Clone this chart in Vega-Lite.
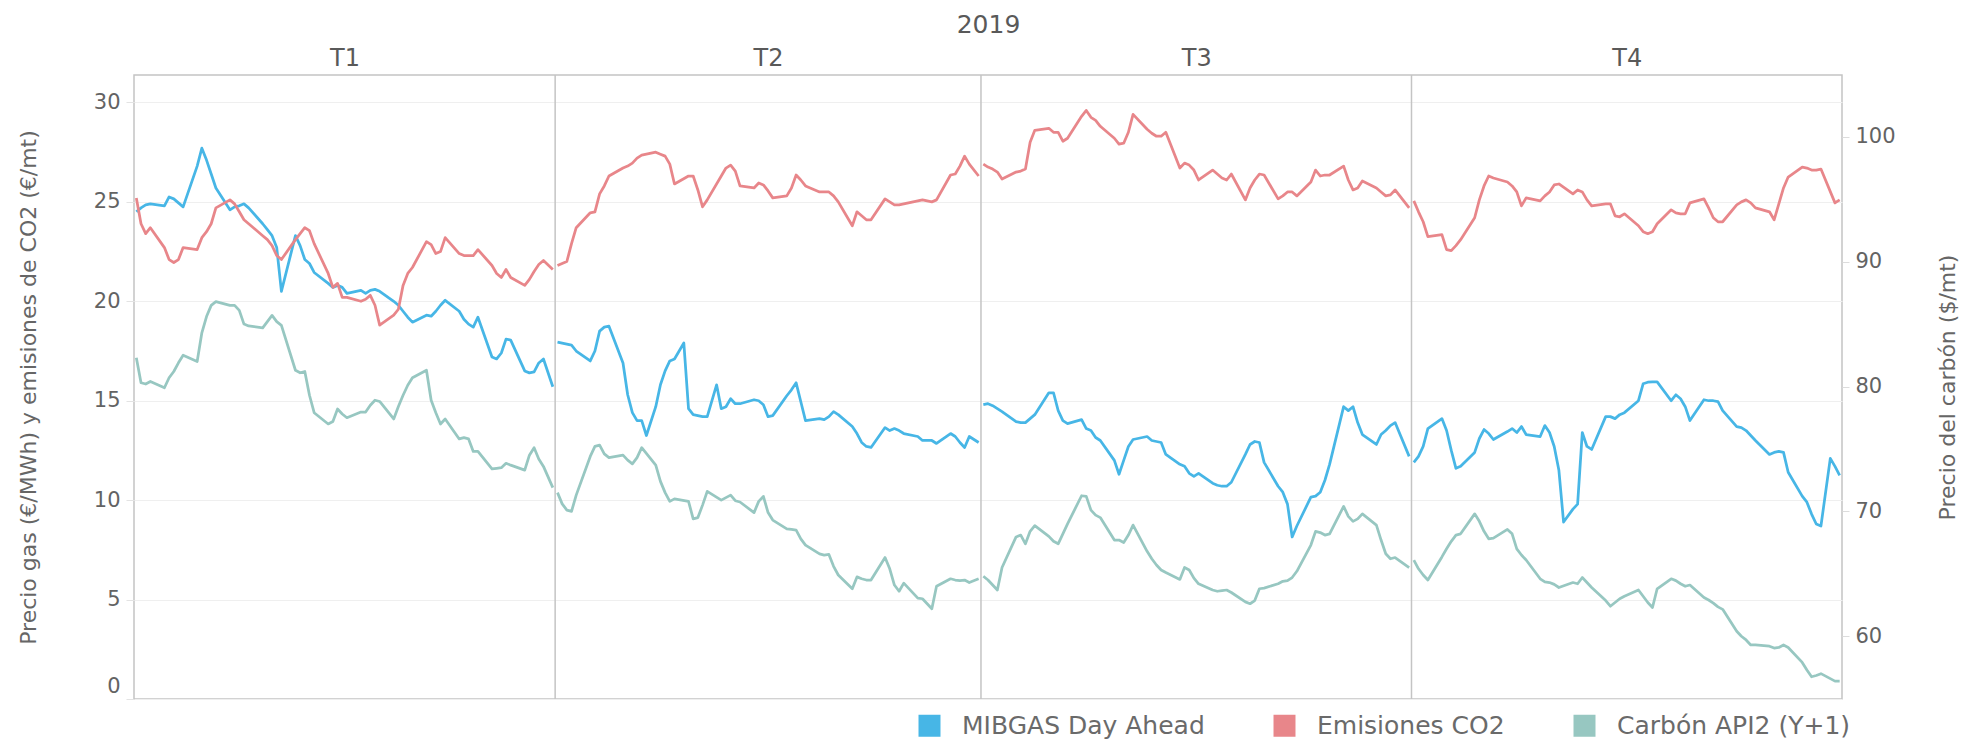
{
"$schema": "https://vega.github.io/schema/vega-lite/v6.json",
"width": 1708, "height": 624,
"autosize": {"type": "none"},
"padding": {"left": 134, "top": 75, "right": 127, "bottom": 49},
"background": "white",
"config": {
  "font": "DejaVu Sans",
  "view": {"stroke": "#c4c4c4", "strokeWidth": 1.5},
  "axis": {"labelFont": "DejaVu Sans", "titleFont": "DejaVu Sans", "labelColor": "#636363", "titleColor": "#666666", "titleFontWeight": "normal", "domain": false}
},
"data": {"values": [
{"d":"2019-01-01","g":24.5,"c":25.2,"k":82.3},
{"d":"2019-01-02","g":24.7,"c":23.9,"k":80.3},
{"d":"2019-01-03","g":24.85,"c":23.4,"k":80.2},
{"d":"2019-01-04","g":24.9,"c":23.7,"k":80.4},
{"d":"2019-01-07","g":24.8,"c":22.7,"k":79.9},
{"d":"2019-01-08","g":25.25,"c":22.1,"k":80.7},
{"d":"2019-01-09","g":25.15,"c":21.95,"k":81.2},
{"d":"2019-01-10","g":24.95,"c":22.1,"k":81.9},
{"d":"2019-01-11","g":24.75,"c":22.7,"k":82.5},
{"d":"2019-01-14","g":26.8,"c":22.6,"k":82.0},
{"d":"2019-01-15","g":27.7,"c":23.2,"k":84.3},
{"d":"2019-01-16","g":27.1,"c":23.5,"k":85.6},
{"d":"2019-01-17","g":26.4,"c":23.9,"k":86.5},
{"d":"2019-01-18","g":25.7,"c":24.7,"k":86.8},
{"d":"2019-01-21","g":24.6,"c":25.1,"k":86.5},
{"d":"2019-01-22","g":24.75,"c":24.9,"k":86.5},
{"d":"2019-01-23","g":24.8,"c":24.5,"k":86.1},
{"d":"2019-01-24","g":24.9,"c":24.1,"k":85.0},
{"d":"2019-01-25","g":24.7,"c":23.9,"k":84.85},
{"d":"2019-01-28","g":23.9,"c":23.3,"k":84.7},
{"d":"2019-01-29","g":23.6,"c":23.1,"k":85.2},
{"d":"2019-01-30","g":23.3,"c":22.8,"k":85.7},
{"d":"2019-01-31","g":22.7,"c":22.3,"k":85.2},
{"d":"2019-02-01","g":20.5,"c":22.1,"k":84.9},
{"d":"2019-02-04","g":23.3,"c":23.1,"k":81.3},
{"d":"2019-02-05","g":22.8,"c":23.4,"k":81.1},
{"d":"2019-02-06","g":22.1,"c":23.7,"k":81.2},
{"d":"2019-02-07","g":21.9,"c":23.55,"k":79.3},
{"d":"2019-02-08","g":21.45,"c":22.9,"k":77.9},
{"d":"2019-02-11","g":20.9,"c":21.4,"k":77.0},
{"d":"2019-02-12","g":20.7,"c":20.7,"k":77.2},
{"d":"2019-02-13","g":20.8,"c":20.9,"k":78.2},
{"d":"2019-02-14","g":20.7,"c":20.2,"k":77.8},
{"d":"2019-02-15","g":20.4,"c":20.2,"k":77.5},
{"d":"2019-02-18","g":20.55,"c":20.0,"k":77.95},
{"d":"2019-02-19","g":20.4,"c":20.1,"k":77.95},
{"d":"2019-02-20","g":20.55,"c":20.3,"k":78.5},
{"d":"2019-02-21","g":20.6,"c":19.8,"k":78.9},
{"d":"2019-02-22","g":20.5,"c":18.8,"k":78.8},
{"d":"2019-02-25","g":20.0,"c":19.3,"k":77.4},
{"d":"2019-02-26","g":19.8,"c":19.6,"k":78.4},
{"d":"2019-02-27","g":19.5,"c":20.8,"k":79.3},
{"d":"2019-02-28","g":19.2,"c":21.4,"k":80.1},
{"d":"2019-03-01","g":18.95,"c":21.7,"k":80.7},
{"d":"2019-03-04","g":19.3,"c":23.0,"k":81.3},
{"d":"2019-03-05","g":19.25,"c":22.85,"k":78.9},
{"d":"2019-03-06","g":19.5,"c":22.4,"k":77.9},
{"d":"2019-03-07","g":19.8,"c":22.5,"k":77.0},
{"d":"2019-03-08","g":20.05,"c":23.2,"k":77.4},
{"d":"2019-03-11","g":19.5,"c":22.4,"k":75.8},
{"d":"2019-03-12","g":19.1,"c":22.3,"k":75.9},
{"d":"2019-03-13","g":18.85,"c":22.3,"k":75.8},
{"d":"2019-03-14","g":18.7,"c":22.3,"k":74.8},
{"d":"2019-03-15","g":19.2,"c":22.6,"k":74.8},
{"d":"2019-03-18","g":17.2,"c":21.8,"k":73.4},
{"d":"2019-03-19","g":17.1,"c":21.4,"k":73.45},
{"d":"2019-03-20","g":17.4,"c":21.2,"k":73.5},
{"d":"2019-03-21","g":18.1,"c":21.6,"k":73.85},
{"d":"2019-03-22","g":18.05,"c":21.2,"k":73.7},
{"d":"2019-03-25","g":16.5,"c":20.8,"k":73.3},
{"d":"2019-03-26","g":16.4,"c":21.1,"k":74.5},
{"d":"2019-03-27","g":16.45,"c":21.5,"k":75.1},
{"d":"2019-03-28","g":16.9,"c":21.85,"k":74.2},
{"d":"2019-03-29","g":17.1,"c":22.05,"k":73.6},
{"d":"2019-03-31","g":15.7,"c":21.6,"k":71.9},
{"d":"2019-04-01","g":17.95,"c":21.8,"k":71.5},
{"d":"2019-04-02","g":17.9,"c":21.9,"k":70.6},
{"d":"2019-04-03","g":17.85,"c":22.0,"k":70.1},
{"d":"2019-04-04","g":17.8,"c":22.9,"k":70.0},
{"d":"2019-04-05","g":17.5,"c":23.7,"k":71.3},
{"d":"2019-04-08","g":17.0,"c":24.45,"k":74.4},
{"d":"2019-04-09","g":17.5,"c":24.5,"k":75.2},
{"d":"2019-04-10","g":18.5,"c":25.4,"k":75.3},
{"d":"2019-04-11","g":18.7,"c":25.8,"k":74.6},
{"d":"2019-04-12","g":18.75,"c":26.3,"k":74.3},
{"d":"2019-04-15","g":16.9,"c":26.7,"k":74.5},
{"d":"2019-04-16","g":15.3,"c":26.8,"k":74.1},
{"d":"2019-04-17","g":14.4,"c":26.95,"k":73.8},
{"d":"2019-04-18","g":14.0,"c":27.2,"k":74.3},
{"d":"2019-04-19","g":14.0,"c":27.35,"k":75.1},
{"d":"2019-04-20","g":13.25},
{"d":"2019-04-22","g":14.7,"c":27.5,"k":73.7},
{"d":"2019-04-23","g":15.8,"c":27.4,"k":72.4},
{"d":"2019-04-24","g":16.5,"c":27.3,"k":71.5},
{"d":"2019-04-25","g":17.0,"c":26.9,"k":70.8},
{"d":"2019-04-26","g":17.1,"c":25.9,"k":71.0},
{"d":"2019-04-28","g":17.9},
{"d":"2019-04-29","g":14.6,"c":26.3,"k":70.8},
{"d":"2019-04-30","g":14.3,"c":26.3,"k":69.4},
{"d":"2019-05-01","g":14.25,"c":25.6,"k":69.5},
{"d":"2019-05-02","g":14.2,"c":24.75,"k":70.5},
{"d":"2019-05-03","g":14.2,"c":25.1,"k":71.6},
{"d":"2019-05-05","g":15.8},
{"d":"2019-05-06","g":14.6,"c":26.3,"k":70.9},
{"d":"2019-05-07","g":14.7,"c":26.7,"k":71.1},
{"d":"2019-05-08","g":15.1,"c":26.85,"k":71.3},
{"d":"2019-05-09","g":14.85,"c":26.55,"k":70.85},
{"d":"2019-05-10","g":14.85,"c":25.8,"k":70.75},
{"d":"2019-05-13","g":15.05,"c":25.7,"k":69.9},
{"d":"2019-05-14","g":15.0,"c":25.95,"k":70.8},
{"d":"2019-05-15","g":14.8,"c":25.85,"k":71.2},
{"d":"2019-05-16","g":14.2,"c":25.55,"k":69.9},
{"d":"2019-05-17","g":14.25,"c":25.2,"k":69.3},
{"d":"2019-05-20","g":15.25,"c":25.3,"k":68.6},
{"d":"2019-05-21","g":15.55,"c":25.7,"k":68.55},
{"d":"2019-05-22","g":15.9,"c":26.35,"k":68.5},
{"d":"2019-05-23","g":14.95,"c":26.1,"k":67.8},
{"d":"2019-05-24","g":14.0,"c":25.8,"k":67.3},
{"d":"2019-05-27","g":14.1,"c":25.5,"k":66.6},
{"d":"2019-05-28","g":14.05,"c":25.5,"k":66.5},
{"d":"2019-05-29","g":14.2,"c":25.5,"k":66.55},
{"d":"2019-05-30","g":14.45,"c":25.3,"k":65.6},
{"d":"2019-05-31","g":14.3,"c":25.0,"k":64.9},
{"d":"2019-06-03","g":13.7,"c":23.8,"k":63.8},
{"d":"2019-06-04","g":13.35,"c":24.5,"k":64.75},
{"d":"2019-06-05","g":12.9,"c":24.3,"k":64.6},
{"d":"2019-06-06","g":12.7,"c":24.1,"k":64.5},
{"d":"2019-06-07","g":12.65,"c":24.1,"k":64.5},
{"d":"2019-06-10","g":13.65,"c":25.15,"k":66.3},
{"d":"2019-06-11","g":13.5,"c":25.0,"k":65.4},
{"d":"2019-06-12","g":13.6,"c":24.85,"k":64.1},
{"d":"2019-06-13","g":13.5,"c":24.85,"k":63.6},
{"d":"2019-06-14","g":13.35,"c":24.9,"k":64.25},
{"d":"2019-06-17","g":13.2,"c":25.05,"k":63.05},
{"d":"2019-06-18","g":13.0,"c":25.1,"k":63.0},
{"d":"2019-06-19","g":13.0,"c":25.05,"k":62.6},
{"d":"2019-06-20","g":13.0,"c":25.0,"k":62.2},
{"d":"2019-06-21","g":12.85,"c":25.1,"k":64.0},
{"d":"2019-06-24","g":13.35,"c":26.35,"k":64.6},
{"d":"2019-06-25","g":13.2,"c":26.4,"k":64.5},
{"d":"2019-06-26","g":12.9,"c":26.8,"k":64.45},
{"d":"2019-06-27","g":12.65,"c":27.3,"k":64.5},
{"d":"2019-06-28","g":13.2,"c":26.9,"k":64.3},
{"d":"2019-06-30","g":12.9,"c":26.3,"k":64.6},
{"d":"2019-07-01","g":14.8,"c":26.9,"k":64.8},
{"d":"2019-07-02","g":14.85,"c":26.75,"k":64.5},
{"d":"2019-07-03","g":14.75,"c":26.65,"k":64.1},
{"d":"2019-07-04","g":14.6,"c":26.5,"k":63.7},
{"d":"2019-07-05","g":14.45,"c":26.15,"k":65.5},
{"d":"2019-07-08","g":13.95,"c":26.5,"k":67.95},
{"d":"2019-07-09","g":13.9,"c":26.55,"k":68.1},
{"d":"2019-07-10","g":13.9,"c":26.65,"k":67.4},
{"d":"2019-07-11","g":14.1,"c":28.0,"k":68.4},
{"d":"2019-07-12","g":14.3,"c":28.6,"k":68.85},
{"d":"2019-07-15","g":15.4,"c":28.7,"k":68.0},
{"d":"2019-07-16","g":15.4,"c":28.5,"k":67.6},
{"d":"2019-07-17","g":14.5,"c":28.5,"k":67.4},
{"d":"2019-07-18","g":14.0,"c":28.05,"k":68.2},
{"d":"2019-07-19","g":13.85,"c":28.2,"k":69.0},
{"d":"2019-07-22","g":14.05,"c":29.3,"k":71.25},
{"d":"2019-07-23","g":13.6,"c":29.6,"k":71.2},
{"d":"2019-07-24","g":13.5,"c":29.25,"k":70.1},
{"d":"2019-07-25","g":13.15,"c":29.1,"k":69.7},
{"d":"2019-07-26","g":13.0,"c":28.8,"k":69.5},
{"d":"2019-07-29","g":12.0,"c":28.2,"k":67.7},
{"d":"2019-07-30","g":11.3,"c":27.9,"k":67.7},
{"d":"2019-07-31","g":12.0,"c":27.95,"k":67.5},
{"d":"2019-08-01","g":12.7,"c":28.5,"k":68.1},
{"d":"2019-08-02","g":13.05,"c":29.4,"k":68.9},
{"d":"2019-08-05","g":13.2,"c":28.65,"k":66.8},
{"d":"2019-08-06","g":13.0,"c":28.45,"k":66.2},
{"d":"2019-08-07","g":12.95,"c":28.3,"k":65.7},
{"d":"2019-08-08","g":12.9,"c":28.3,"k":65.3},
{"d":"2019-08-09","g":12.3,"c":28.5,"k":65.1},
{"d":"2019-08-12","g":11.8,"c":26.7,"k":64.55},
{"d":"2019-08-13","g":11.7,"c":26.95,"k":65.5},
{"d":"2019-08-14","g":11.35,"c":26.85,"k":65.3},
{"d":"2019-08-15","g":11.2,"c":26.6,"k":64.65},
{"d":"2019-08-16","g":11.35,"c":26.1,"k":64.2},
{"d":"2019-08-19","g":10.85,"c":26.6,"k":63.7},
{"d":"2019-08-20","g":10.75,"c":26.4,"k":63.6},
{"d":"2019-08-21","g":10.7,"c":26.2,"k":63.65},
{"d":"2019-08-22","g":10.7,"c":26.1,"k":63.7},
{"d":"2019-08-23","g":10.9,"c":26.4,"k":63.5},
{"d":"2019-08-26","g":12.3,"c":25.1,"k":62.75},
{"d":"2019-08-27","g":12.8,"c":25.7,"k":62.6},
{"d":"2019-08-28","g":12.95,"c":26.1,"k":62.85},
{"d":"2019-08-29","g":12.9,"c":26.4,"k":63.8},
{"d":"2019-08-30","g":11.9,"c":26.35,"k":63.85},
{"d":"2019-09-02","g":10.7,"c":25.15,"k":64.2},
{"d":"2019-09-03","g":10.4,"c":25.3,"k":64.4},
{"d":"2019-09-04","g":9.8,"c":25.5,"k":64.45},
{"d":"2019-09-05","g":8.15,"c":25.5,"k":64.7},
{"d":"2019-09-06","g":8.7,"c":25.3,"k":65.2},
{"d":"2019-09-09","g":10.15,"c":26.0,"k":67.3},
{"d":"2019-09-10","g":10.2,"c":26.6,"k":68.4},
{"d":"2019-09-11","g":10.4,"c":26.3,"k":68.3},
{"d":"2019-09-12","g":11.0,"c":26.35,"k":68.1},
{"d":"2019-09-13","g":11.8,"c":26.35,"k":68.2},
{"d":"2019-09-16","g":14.7,"c":26.8,"k":70.4},
{"d":"2019-09-17","g":14.5,"c":26.1,"k":69.6},
{"d":"2019-09-18","g":14.7,"c":25.6,"k":69.2},
{"d":"2019-09-19","g":13.9,"c":25.7,"k":69.4},
{"d":"2019-09-20","g":13.3,"c":26.05,"k":69.8},
{"d":"2019-09-23","g":12.8,"c":25.7,"k":68.9},
{"d":"2019-09-24","g":13.3,"c":25.5,"k":67.7},
{"d":"2019-09-25","g":13.5,"c":25.3,"k":66.6},
{"d":"2019-09-26","g":13.75,"c":25.35,"k":66.2},
{"d":"2019-09-27","g":13.9,"c":25.6,"k":66.3},
{"d":"2019-09-30","g":12.2,"c":24.7,"k":65.5},
{"d":"2019-10-01","g":11.9,"c":25.05,"k":66.1},
{"d":"2019-10-02","g":12.2,"c":24.5,"k":65.4},
{"d":"2019-10-03","g":12.7,"c":24.0,"k":64.9},
{"d":"2019-10-04","g":13.6,"c":23.25,"k":64.5},
{"d":"2019-10-07","g":14.1,"c":23.35,"k":66.35},
{"d":"2019-10-08","g":13.5,"c":22.6,"k":67.0},
{"d":"2019-10-09","g":12.5,"c":22.55,"k":67.6},
{"d":"2019-10-10","g":11.6,"c":22.8,"k":68.1},
{"d":"2019-10-11","g":11.7,"c":23.1,"k":68.2},
{"d":"2019-10-14","g":12.4,"c":24.2,"k":69.8},
{"d":"2019-10-15","g":13.1,"c":25.1,"k":69.2},
{"d":"2019-10-16","g":13.55,"c":25.8,"k":68.4},
{"d":"2019-10-17","g":13.35,"c":26.3,"k":67.8},
{"d":"2019-10-18","g":13.05,"c":26.2,"k":67.85},
{"d":"2019-10-21","g":13.45,"c":26.0,"k":68.55},
{"d":"2019-10-22","g":13.6,"c":25.8,"k":68.2},
{"d":"2019-10-23","g":13.4,"c":25.5,"k":67.0},
{"d":"2019-10-24","g":13.7,"c":24.8,"k":66.5},
{"d":"2019-10-25","g":13.3,"c":25.2,"k":66.1},
{"d":"2019-10-28","g":13.2,"c":25.05,"k":64.6},
{"d":"2019-10-29","g":13.75,"c":25.3,"k":64.35},
{"d":"2019-10-30","g":13.4,"c":25.5,"k":64.3},
{"d":"2019-10-31","g":12.7,"c":25.85,"k":64.15},
{"d":"2019-11-01","g":11.5,"c":25.9,"k":63.9},
{"d":"2019-11-02","g":8.9},
{"d":"2019-11-04","g":9.55,"c":25.4,"k":64.3},
{"d":"2019-11-05","g":9.8,"c":25.6,"k":64.2},
{"d":"2019-11-06","g":13.4,"c":25.5,"k":64.7},
{"d":"2019-11-07","g":12.7,"c":25.1,"k":64.3},
{"d":"2019-11-08","g":12.55,"c":24.8,"k":63.9},
{"d":"2019-11-11","g":14.2,"c":24.9,"k":62.85},
{"d":"2019-11-12","g":14.2,"c":24.9,"k":62.4},
{"d":"2019-11-13","g":14.1,"c":24.3,"k":62.7},
{"d":"2019-11-14","g":14.3,"c":24.25,"k":63.0},
{"d":"2019-11-15","g":14.4,"c":24.4,"k":63.2},
{"d":"2019-11-18","g":15.0,"c":23.8,"k":63.7},
{"d":"2019-11-19","g":15.85,"c":23.5,"k":63.2},
{"d":"2019-11-20","g":15.93,"c":23.4,"k":62.7},
{"d":"2019-11-21","g":15.95,"c":23.5,"k":62.3},
{"d":"2019-11-22","g":15.95,"c":23.9,"k":63.8},
{"d":"2019-11-25","g":15.0,"c":24.6,"k":64.6},
{"d":"2019-11-26","g":15.3,"c":24.45,"k":64.45},
{"d":"2019-11-27","g":15.1,"c":24.4,"k":64.2},
{"d":"2019-11-28","g":14.7,"c":24.4,"k":64.0},
{"d":"2019-11-29","g":14.0,"c":24.95,"k":64.1},
{"d":"2019-12-02","g":15.05,"c":25.15,"k":63.1},
{"d":"2019-12-03","g":15.0,"c":24.7,"k":62.9},
{"d":"2019-12-04","g":15.0,"c":24.2,"k":62.65},
{"d":"2019-12-05","g":14.95,"c":24.0,"k":62.35},
{"d":"2019-12-06","g":14.5,"c":24.0,"k":62.15},
{"d":"2019-12-09","g":13.7,"c":24.85,"k":60.4},
{"d":"2019-12-10","g":13.65,"c":25.0,"k":60.0},
{"d":"2019-12-11","g":13.5,"c":25.1,"k":59.7},
{"d":"2019-12-12","g":13.25,"c":24.95,"k":59.3},
{"d":"2019-12-13","g":13.0,"c":24.7,"k":59.3},
{"d":"2019-12-16","g":12.3,"c":24.5,"k":59.2},
{"d":"2019-12-17","g":12.4,"c":24.1,"k":59.05},
{"d":"2019-12-18","g":12.45,"c":24.9,"k":59.1},
{"d":"2019-12-19","g":12.4,"c":25.7,"k":59.3},
{"d":"2019-12-20","g":11.4,"c":26.25,"k":59.1},
{"d":"2019-12-23","g":10.2,"c":26.75,"k":57.9},
{"d":"2019-12-24","g":9.9,"c":26.7,"k":57.3},
{"d":"2019-12-25","g":9.3,"c":26.6,"k":56.75},
{"d":"2019-12-26","g":8.8,"c":26.6,"k":56.85},
{"d":"2019-12-27","g":8.7,"c":26.65,"k":57.0},
{"d":"2019-12-29","g":12.1},
{"d":"2019-12-30","g":11.7,"c":24.95,"k":56.4},
{"d":"2019-12-31","g":11.25,"c":25.1,"k":56.4}
]},
"encoding": {
  "x": {"field": "d", "type": "temporal",
    "scale": {"type": "utc", "domain": [{"year": 2018, "month": 12, "date": 31, "hours": 12, "utc": true}, {"year": 2019, "month": 12, "date": 31, "hours": 12, "utc": true}]},
    "axis": {"orient": "top", "title": "2019", "grid": false, "ticks": false, "tickSize": 0,
      "values": [{"year": 2019, "month": 2, "date": 14, "hours": 12, "utc": true}, {"year": 2019, "month": 5, "date": 16, "hours": 0, "utc": true}, {"year": 2019, "month": 8, "date": 15, "hours": 12, "utc": true}, {"year": 2019, "month": 11, "date": 15, "hours": 12, "utc": true}],
      "labelExpr": "'T' + utcquarter(datum.value)", "labelFlush": false, "labelOverlap": false,
      "labelPadding": 5, "labelFontSize": 24, "labelColor": "#595959",
      "titleFontSize": 25, "titlePadding": 9, "titleColor": "#595959"}}
},
"layer": [
  {"data": {"values": [{"d": "2019-03-31T12:00:00Z"}, {"d": "2019-06-30T12:00:00Z"}, {"d": "2019-09-30T12:00:00Z"}]},
   "mark": {"type": "rule", "color": "#c4c4c4", "strokeWidth": 1.5}},
  {"transform": [{"fold": ["g", "c"], "as": ["s", "v"]}, {"filter": "isValid(datum.v)"}],
   "mark": {"type": "line", "strokeWidth": 2.75, "strokeJoin": "round"},
   "encoding": {
     "y": {"field": "v", "type": "quantitative",
       "scale": {"domain": [0, 31.38], "nice": false, "zero": false},
       "axis": {"orient": "left", "title": "Precio gas (€/MWh) y emisiones de CO2 (€/mt)", "values": [0, 5, 10, 15, 20, 25, 30],
         "grid": true, "gridColor": "#efefef", "gridWidth": 1.2, "tickColor": "#e3e3e3", "tickSize": 8,
         "labelPadding": 6, "labelFontSize": 21, "titleFontSize": 22, "titlePadding": 53, "labelFlush": true, "labelFlushOffset": -3}},
     "color": {"field": "s", "type": "nominal",
       "scale": {"domain": ["g", "c", "k"], "range": ["#47b6e6", "#e8868a", "#97c7c1"]},
       "legend": {"orient": "none", "legendX": 783, "legendY": 638, "direction": "horizontal", "title": null,
         "symbolType": "square", "symbolSize": 484, "symbolStrokeWidth": 0,
         "labelFont": "DejaVu Sans", "labelFontSize": 25, "labelColor": "#6a6a6a", "labelOffset": 20, "columnPadding": 67, "padding": 0, "labelLimit": 400,
         "labelExpr": "datum.value == 'g' ? 'MIBGAS Day Ahead' : datum.value == 'c' ? 'Emisiones CO2' : 'Carbón API2 (Y+1)'",
         "encode": {"symbols": {"update": {"fill": {"scale": "color", "field": "value"}, "fillOpacity": {"value": 1}, "strokeWidth": {"value": 0}}}}}},
     "detail": {"field": "d", "timeUnit": "utcquarter", "type": "ordinal"}
   }},
  {"transform": [{"fold": ["k"], "as": ["s", "v"]}, {"filter": "isValid(datum.v)"}],
   "mark": {"type": "line", "strokeWidth": 2.75, "strokeJoin": "round"},
   "encoding": {
     "y": {"field": "v", "type": "quantitative",
       "scale": {"domain": [54.97, 104.95], "nice": false, "zero": false},
       "axis": {"orient": "right", "title": "Precio del carbón ($/mt)", "values": [60, 70, 80, 90, 100],
         "grid": false, "tickColor": "#dcdcdc", "tickSize": 7,
         "labelPadding": 6, "labelFontSize": 21, "titleFontSize": 22, "titlePadding": 42, "titleAngle": 270, "titleBaseline": "top"}},
     "color": {"field": "s", "type": "nominal"},
     "detail": {"field": "d", "timeUnit": "utcquarter", "type": "ordinal"}
   }}
],
"resolve": {"scale": {"y": "independent"}, "axis": {"y": "independent"}}
}
